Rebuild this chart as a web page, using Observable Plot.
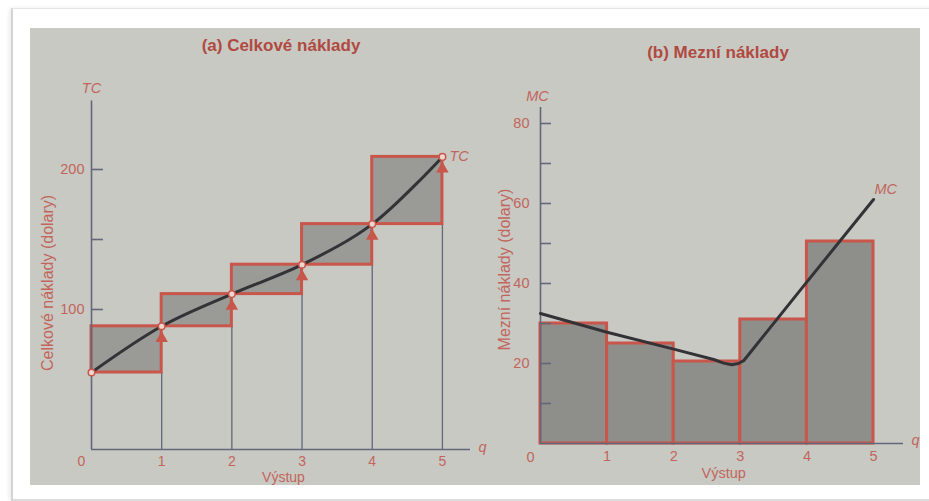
<!DOCTYPE html>
<html>
<head>
<meta charset="utf-8">
<script src="https://cdn.jsdelivr.net/npm/d3@7"></script>
<script src="https://cdn.jsdelivr.net/npm/@observablehq/plot@0.6"></script>
<style>
  html, body { margin: 0; padding: 0; background: #ffffff; width: 929px; height: 501px; overflow: hidden; }
  #card { position: absolute; left: 11px; top: 8px; width: 930px; height: 490px; border-left: 2px solid #d4d4d4; border-top: 1px solid #e6e6e6; border-bottom: 2px solid #dcdcdc; box-shadow: -2px 0 4px rgba(0,0,0,0.08); }
  #photo { position: absolute; left: 30px; top: 28px; width: 890px; height: 457px; background: #c9c9c4; overflow: hidden; }
  .title { position: absolute; font-family: "Liberation Sans", Arial, sans-serif; font-weight: bold; font-size: 17px; color: #b04a40; white-space: nowrap; transform: translate(-50%, -50%); }
  .panel { position: absolute; top: 0; }
</style>
</head>
<body>
<div id="card"></div>
<div id="photo">
  <div id="pa" class="panel" style="left:0px;"></div>
  <div id="pb" class="panel" style="left:450px;"></div>
  <div class="title" style="left:251px; top:18px;">(a) Celkové náklady</div>
  <div class="title" style="left:688px; top:25px;">(b) Mezní náklady</div>
</div>
<script>
// ---- data ----
const quantities = [0, 1, 2, 3, 4, 5];
const totalCost = [55, 88, 111, 132, 161, 209];
const marginalCost = [30, 25, 20.5, 31, 50.5];
const mcCurveQ = [0, 1, 2, 2.6, 2.75, 2.87, 2.97, 3.05, 4, 5];
const mcCurveV = [32.5, 27.8, 23.6, 21, 20.1, 19.7, 20, 20.7, 40.4, 61];
const tcTicks = [100, 150, 200];
const tcTickLabels = [100, 200];
const mcTicks = [10, 20, 30, 40, 50, 60, 70, 80];
const mcTickLabels = [20, 40, 60, 80];
const xTickLabels = [1, 2, 3, 4, 5];

// ---- styles ----
const RED = "#c9564b";
const LABEL = "#c0665c";
const AXIS = "#62677a";
const CURVE = "#333337";
const FONT = "Liberation Sans, Arial, sans-serif";

// ---- derived tables ----
const tcPts = quantities.map((q, i) => ({q, v: totalCost[i]}));
const tcSteps = xTickLabels.map((q, i) => ({x1: q - 1, x2: q, y1: totalCost[i], y2: totalCost[i + 1], q}));
const mcBars = marginalCost.map((v, i) => ({x1: i, x2: i + 1, v}));
const mcLine = mcCurveQ.map((q, i) => ({q, v: mcCurveV[i]}));

// ---- panel (a) ----
const pa = Plot.plot({
  width: 480, height: 457,
  marginLeft: 61, marginRight: 40, marginTop: 71, marginBottom: 36,
  x: {domain: [0, 5.4], axis: null},
  y: {domain: [0, 250], axis: null},
  style: {background: "transparent", fontFamily: FONT},
  marks: [
    Plot.ruleX(tcSteps, {x: "x2", y1: 0, y2: "y1", stroke: AXIS, strokeWidth: 1.3}),
    Plot.rect(tcSteps, {x1: "x1", x2: "x2", y1: "y1", y2: "y2", fill: "#9a9a97", stroke: RED, strokeWidth: 3}),
    Plot.ruleX([0], {y1: 0, y2: 249, stroke: AXIS, strokeWidth: 1.6}),
    Plot.ruleY([0], {x1: 0, x2: 5.4, stroke: AXIS, strokeWidth: 1.6}),
    Plot.ruleY(tcTicks, {y: d => d, x1: 0, x2: 0.17, stroke: AXIS, strokeWidth: 1.6}),
    Plot.dot(tcSteps, {x: "x2", y: "y2", symbol: "triangle", r: 4.6, fill: RED, stroke: "none", dy: 12}),
    Plot.line(tcPts, {x: "q", y: "v", curve: "catmull-rom", stroke: CURVE, strokeWidth: 3}),
    Plot.dot(tcPts, {x: "q", y: "v", r: 3.3, fill: "#ecd6cf", stroke: RED, strokeWidth: 1.5}),
    Plot.text(tcTickLabels, {x: 0, y: d => d, text: d => String(d), dx: -7, textAnchor: "end", fill: LABEL, fontSize: 14.5}),
    Plot.text(xTickLabels, {x: d => d, y: 0, text: d => String(d), dy: 12, fill: LABEL, fontSize: 14}),
    Plot.text(["0"], {x: 0, y: 0, text: d => d, dx: -10, dy: 12, fill: LABEL, fontSize: 14}),
    Plot.text(["TC"], {x: 0, y: 250, text: d => d, dy: -11, fill: LABEL, fontSize: 14.5, fontStyle: "italic"}),
    Plot.text(["TC"], {x: 5, y: totalCost[5], text: d => d, dx: 7, dy: -1, textAnchor: "start", fill: LABEL, fontSize: 14.5, fontStyle: "italic"}),
    Plot.text(["q"], {x: 5.4, y: 0, text: d => d, dx: 8, dy: -2, textAnchor: "start", fill: LABEL, fontSize: 14.5, fontStyle: "italic"}),
    Plot.text(["Výstup"], {x: 2.735, y: 0, text: d => d, dy: 28, fill: LABEL, fontSize: 14}),
    Plot.text(["Celkové náklady (dolary)"], {x: -0.627, y: 119, text: d => d, rotate: -90, fill: LABEL, fontSize: 16})
  ]
});
document.getElementById("pa").appendChild(pa);

// ---- panel (b) ----
const pb = Plot.plot({
  width: 440, height: 457,
  marginLeft: 60, marginRight: 17, marginTop: 79, marginBottom: 42,
  x: {domain: [0, 5.45], axis: null},
  y: {domain: [0, 84], axis: null},
  style: {background: "transparent", fontFamily: FONT},
  marks: [
    Plot.rect(mcBars, {x1: "x1", x2: "x2", y1: 0, y2: "v", fill: "#8e8e8b", stroke: RED, strokeWidth: 3}),
    Plot.ruleX([0], {y1: 0, y2: 84, stroke: AXIS, strokeWidth: 1.6}),
    Plot.ruleY([0], {x1: 0, x2: 5.45, stroke: AXIS, strokeWidth: 1.6}),
    Plot.ruleY(mcTicks, {y: d => d, x1: 0, x2: 0.165, stroke: AXIS, strokeWidth: 1.6}),
    Plot.line(mcLine, {x: "q", y: "v", curve: "linear", stroke: CURVE, strokeWidth: 3, strokeLinejoin: "round"}),
    Plot.text(mcTickLabels, {x: 0, y: d => d, text: d => String(d), dx: -11, textAnchor: "end", fill: LABEL, fontSize: 14.5}),
    Plot.text(xTickLabels, {x: d => d, y: 0, text: d => String(d), dy: 13, fill: LABEL, fontSize: 14.5}),
    Plot.text(["0"], {x: 0, y: 0, text: d => d, dx: -10, dy: 14, fill: LABEL, fontSize: 14.5}),
    Plot.text(["MC"], {x: 0, y: 84, text: d => d, dx: -3, dy: -11, fill: LABEL, fontSize: 14.5, fontStyle: "italic"}),
    Plot.text(["MC"], {x: 5, y: mcCurveV[mcCurveV.length - 1], text: d => d, dx: 1, dy: -10, textAnchor: "start", fill: LABEL, fontSize: 14.5, fontStyle: "italic"}),
    Plot.text(["q"], {x: 5.45, y: 0, text: d => d, dx: 8, dy: -3, textAnchor: "start", fill: LABEL, fontSize: 14.5, fontStyle: "italic"}),
    Plot.text(["Výstup"], {x: 2.75, y: 0, text: d => d, dy: 30, fill: LABEL, fontSize: 14.5}),
    Plot.text(["Mezní náklady (dolary)"], {x: -0.53, y: 43.5, text: d => d, rotate: -90, fill: LABEL, fontSize: 16})
  ]
});
document.getElementById("pb").appendChild(pb);
</script>
</body>
</html>
